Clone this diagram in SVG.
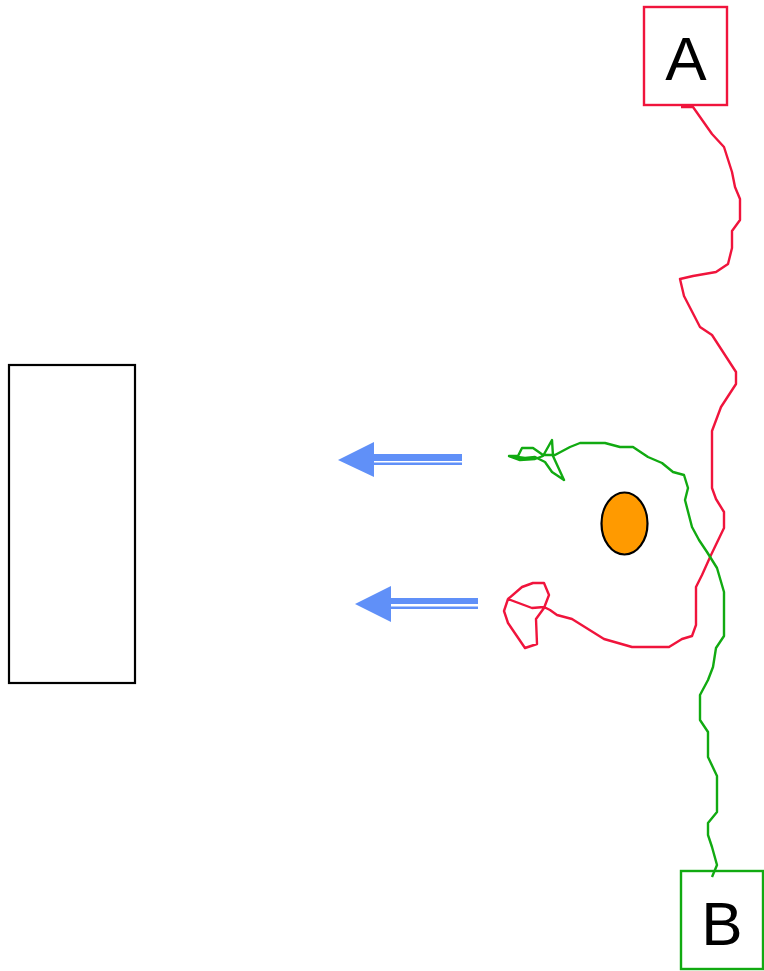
<svg xmlns="http://www.w3.org/2000/svg" width="764" height="971" viewBox="0 0 764 971">
<style>
.lbl{font-family:"Liberation Sans",Arial,sans-serif;font-size:62px;fill:#000;text-anchor:middle}
.red{fill:none;stroke:#f0143c;stroke-width:2.4;stroke-linejoin:round}
.green{fill:none;stroke:#11aa11;stroke-width:2.4;stroke-linejoin:round}
.arrow{fill:#6090f8}
</style>
<rect width="764" height="971" fill="#fff"/>
<g id="wall"><rect x="9" y="365" width="126" height="318" fill="none" stroke="#000" stroke-width="2.2"/></g>
<g id="nodeA"><rect x="644" y="7" width="83" height="98" fill="#fff" stroke="#f0143c" stroke-width="2.4"/><text class="lbl" x="686" y="80">A</text></g>
<g id="nodeB"><rect x="681" y="871" width="82" height="98" fill="#fff" stroke="#11aa11" stroke-width="2.4"/><text class="lbl" x="722" y="945">B</text></g>
<g id="ball"><ellipse cx="624.5" cy="523.5" rx="23" ry="31" fill="#ff9a00" stroke="#000" stroke-width="2.2"/></g>
<g id="arrows">
<polygon class="arrow" points="338,460 374,442 374,454 462,454 462,461 374,461 374,477"/>
<rect class="arrow" x="374" y="462.5" width="88" height="2.5"/>
<polygon class="arrow" points="355,604 391,586 391,598 478,598 478,604 391,604 391,622"/>
<rect class="arrow" x="391" y="606.5" width="87" height="2.5"/>
</g>
<g id="connectors">
<polyline class="red" points="681,107 693,107 712,134 724,147 732,172 735,187 740,199 740,220 732,231 732,248 728,264 716,272 693,276 680,279 684,296 700,327 712,335 736,372 736,384 721,407 712,431 712,488 716,499 724,512 724,528 711,555 702,575 696,587 696,625 692,636 682,639 669,647 632,647 604,639 572,619 557,615 550,610 544,607 532,608 508,599 504,611 508,623 525,648 537,644 536,619 544,608 549,595 544,583 533,583 522,587 508,599"/>
<polyline class="green" points="712,877 717,865 712,847 708,835 708,823 717,812 717,776 708,757 708,732 700,720 700,695 708,680 713,667 716,648 724,636 724,592 717,568 707,552 699,540 692,527 685,500 688,488 684,475 673,472 662,463 648,457 633,447 620,447 605,443 580,443 570,447 555,455 543,455 533,448 522,448 518,456 509,456 520,460 535,459 543,456 552,440 553,456 564,480 552,472 545,462 535,457 525,458 510,456"/>
</g>
</svg>
